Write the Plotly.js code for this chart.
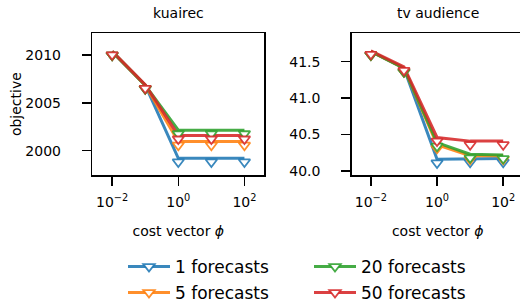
<!DOCTYPE html>
<html><head><meta charset="utf-8">
<script src="https://cdn.plot.ly/plotly-3.0.1.min.js"></script>
<style>html,body{margin:0;padding:0;overflow:hidden;background:#fff}#c{width:524px;height:306px}</style>
</head><body><div id="c"></div>
<script>
const costs = [0.01, 0.1, 1, 10, 100];
const seriesNames = ["1 forecasts", "5 forecasts", "20 forecasts", "50 forecasts"];
const colors = ["rgba(31,119,180,0.88)", "rgba(255,127,14,0.88)", "rgba(44,160,44,0.88)", "rgba(214,39,40,0.88)"];
const kuairec1 = [2010.35, 2006.85, 1999.2, 1999.2, 1999.2];
const kuairec5 = [2010.35, 2006.85, 2000.95, 2000.95, 2000.95];
const kuairec20 = [2010.35, 2006.85, 2002.15, 2002.15, 2002.15];
const kuairec50 = [2010.4, 2006.9, 2001.6, 2001.6, 2001.6];
const tv1 = [41.64, 41.41, 40.16, 40.17, 40.17];
const tv5 = [41.64, 41.41, 40.36, 40.21, 40.21];
const tv20 = [41.64, 41.41, 40.39, 40.23, 40.22];
const tv50 = [41.65, 41.43, 40.46, 40.41, 40.41];
const xTickVals = [0.01, 1, 100];
const xTickText = ["10<sup>−2</sup>", "10<sup>0</sup>", "10<sup>2</sup>"];
const kTicks = [2000, 2005, 2010];
const tvTicks = [40.0, 40.5, 41.0, 41.5];
const tvTickText = ["40.0", "40.5", "41.0", "41.5"];

const kSeries = [kuairec1, kuairec5, kuairec20, kuairec50];
const tSeries = [tv1, tv5, tv20, tv50];
const FONT = "DejaVu Sans, sans-serif";
const W = 524, H = 306;
const plotTop = 33.3, plotBot = 175;
const kRange = [1997.46, 2012.27];
const tRange = [39.945, 41.89];
// caret-style markers: base sits on the line, so draw them on a twin axis offset by a few pixels
const markerShiftPx = 3.6;
const shifted = r => { const d = markerShiftPx * (r[1] - r[0]) / (plotBot - plotTop); return [r[0] + d, r[1] + d]; };
const MS = 10;
const legendNames = ["legend", "legend2", "legend3", "legend4"];

const traces = [];
for (let i = 0; i < 4; i++) {
  const lineStyle = {color: colors[i], width: 3};
  traces.push({x: costs, y: kSeries[i], xaxis: "x", yaxis: "y", mode: "lines", line: lineStyle, showlegend: false, hoverinfo: "skip"});
  traces.push({x: costs, y: tSeries[i], xaxis: "x2", yaxis: "y2", mode: "lines", line: lineStyle, showlegend: false, hoverinfo: "skip"});
}
for (let i = 0; i < 4; i++) {
  const mk = {symbol: "triangle-down", size: MS, color: "#fff", line: {color: colors[i], width: 1.8}};
  traces.push({x: costs, y: kSeries[i], xaxis: "x", yaxis: "y3", mode: "markers", marker: mk, showlegend: false, hoverinfo: "skip"});
  traces.push({x: costs, y: tSeries[i], xaxis: "x2", yaxis: "y4", mode: "markers", marker: mk, showlegend: false, hoverinfo: "skip"});
}
// legend entries
for (let i = 0; i < 4; i++) {
  traces.push({x: [null], y: [null], xaxis: "x", yaxis: "y", mode: "lines+markers", name: seriesNames[i],
    line: {color: colors[i], width: 3},
    marker: {symbol: "triangle-down", size: MS, color: "#fff", line: {color: colors[i], width: 1.8}},
    showlegend: true, legend: legendNames[i], hoverinfo: "skip"});
}

const axCommon = {
  showline: true, mirror: true, linecolor: "#000", linewidth: 1.5, showgrid: false, zeroline: false,
  ticks: "outside", ticklen: 9, tickwidth: 1.5, tickcolor: "#000",
  tickfont: {family: FONT, size: 14, color: "#000"}
};
const yDom = [1 - plotBot / H, 1 - plotTop / H];
const legBase = {orientation: "v", xanchor: "left", yanchor: "middle", itemwidth: 42,
  bgcolor: "rgba(0,0,0,0)", borderwidth: 0, font: {family: FONT, size: 17, color: "#000"}};
const layout = {
  width: W, height: H, margin: {l: 0, r: 0, t: 0, b: 0, autoexpand: false},
  paper_bgcolor: "#fff", plot_bgcolor: "#fff", showlegend: true,
  font: {family: FONT, color: "#000"},
  xaxis: Object.assign({}, axCommon, {type: "log", domain: [92.3/W, 264.3/W], range: [-2.6, 2.6],
    tickvals: xTickVals, ticktext: xTickText, anchor: "y", ticklabelstandoff: 5,
    title: {text: "cost vector <i>ϕ</i>", font: {family: FONT, size: 14}, standoff: 17}}),
  yaxis: Object.assign({}, axCommon, {domain: yDom, range: kRange,
    tickvals: kTicks, anchor: "x", ticklabelstandoff: 18,
    title: {text: "objective", font: {family: FONT, size: 14}, standoff: 0}}),
  xaxis2: Object.assign({}, axCommon, {type: "log", domain: [351.7/W, 523.7/W], range: [-2.58, 2.62],
    tickvals: xTickVals, ticktext: xTickText, anchor: "y2", ticklabelstandoff: 5,
    title: {text: "cost vector <i>ϕ</i>", font: {family: FONT, size: 14}, standoff: 17}}),
  yaxis2: Object.assign({}, axCommon, {domain: yDom, range: tRange,
    tickvals: tvTicks, ticktext: tvTickText, anchor: "x2", ticklabelstandoff: 18}),
  yaxis3: {overlaying: "y", domain: yDom, range: shifted(kRange), visible: false, anchor: "x"},
  yaxis4: {overlaying: "y2", domain: yDom, range: shifted(tRange), visible: false, anchor: "x2"},
  annotations: [
    {text: "kuairec", xref: "paper", yref: "paper", x: (92.3+264.3)/2/W, y: 1-13/H, xanchor: "center", yanchor: "middle", showarrow: false, font: {family: FONT, size: 14}},
    {text: "tv audience", xref: "paper", yref: "paper", x: (351.7+523.7)/2/W, y: 1-13/H, xanchor: "center", yanchor: "middle", showarrow: false, font: {family: FONT, size: 14}}
  ],
  legend: Object.assign({}, legBase, {x: 123/W, y: 1 - 267/H}),
  legend2: Object.assign({}, legBase, {x: 123/W, y: 1 - 293/H}),
  legend3: Object.assign({}, legBase, {x: 309/W, y: 1 - 267/H}),
  legend4: Object.assign({}, legBase, {x: 309/W, y: 1 - 293/H})
};
Plotly.newPlot("c", traces, layout, {staticPlot: true, displayModeBar: false});
</script></body></html>
